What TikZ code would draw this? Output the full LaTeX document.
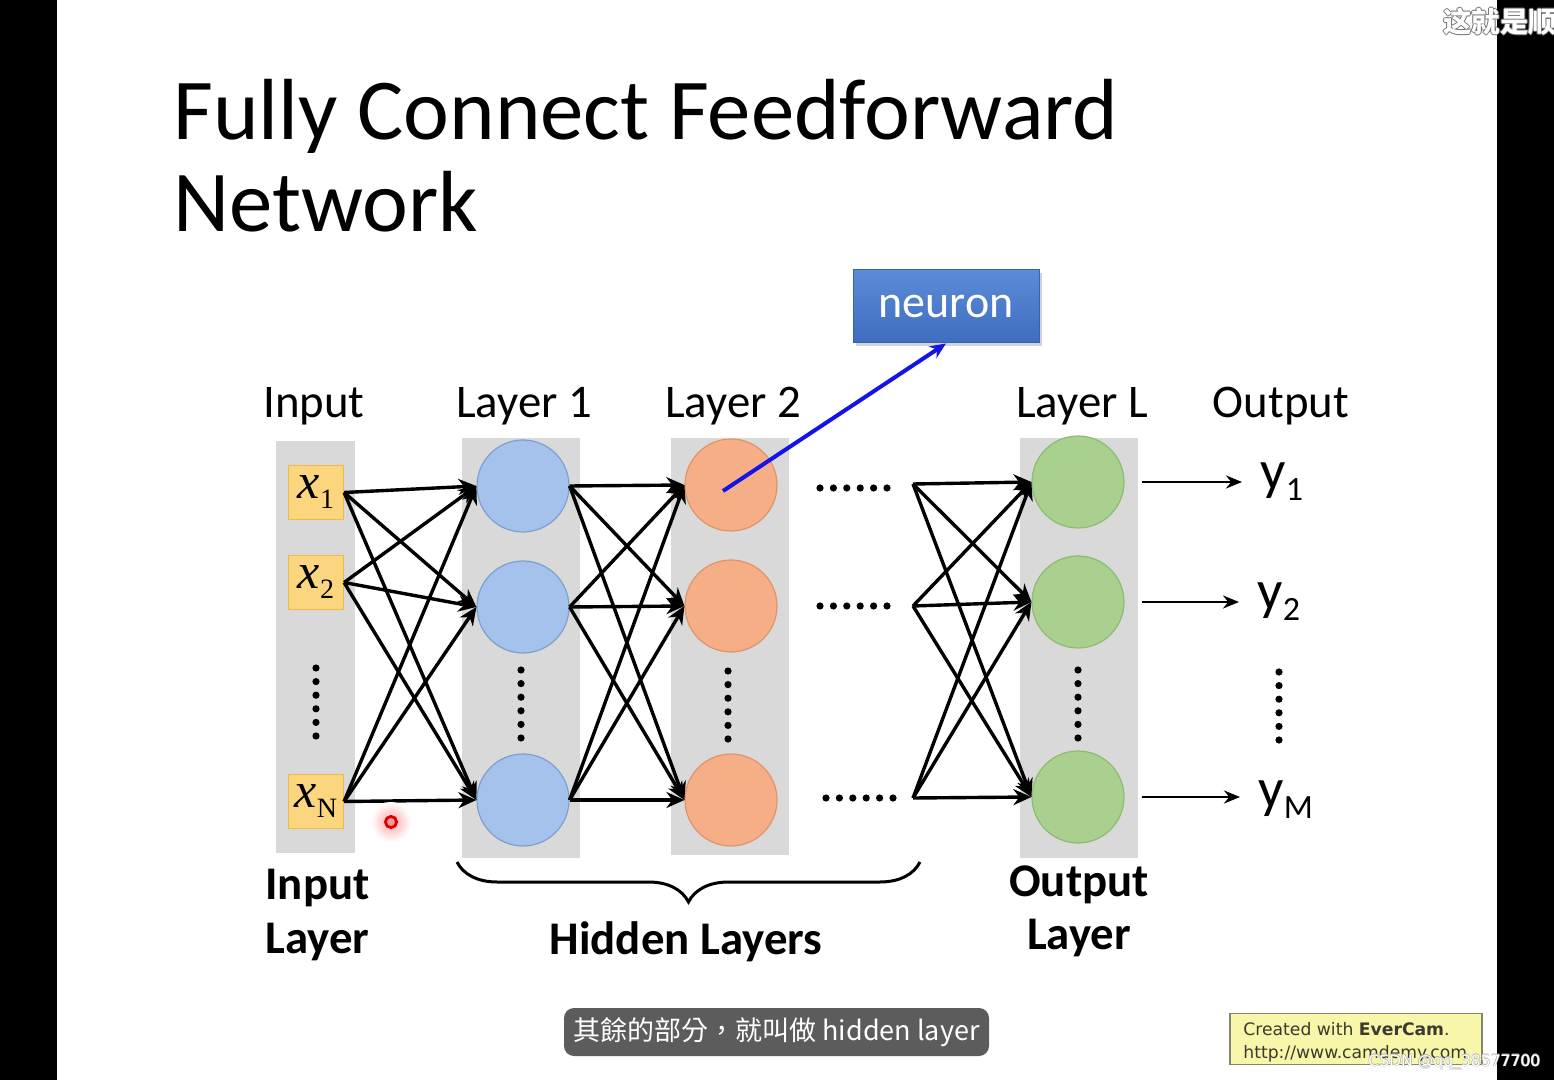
\documentclass[tikz,border=0pt]{standalone}
\usepackage{fontspec}
\setmainfont{Carlito}
\newfontfamily\tnr{Liberation Serif}
\newfontfamily\cjktc{Noto Sans CJK TC}
\newfontfamily\cjksc{Noto Sans CJK SC}
\newfontfamily\dvs{DejaVu Sans}
\usetikzlibrary{arrows.meta,decorations.pathreplacing,shadows}
\newcommand\myfs[1]{\fontsize{#1}{#1}\selectfont}
\newcommand\xlab[1]{{\tnr\myfs{25}\itshape x}\raisebox{-5pt}{\tnr\myfs{14}#1}}
\newcommand\ylab[1]{{\myfs{28}y}\raisebox{-5.5pt}{\myfs{17}#1}}
\newcommand\halo[3]{\leavevmode\rlap{\color{#1}\kern-#3#2}\rlap{\color{#1}\kern#3#2}\rlap{\color{#1}\raisebox{#3}{#2}}\rlap{\color{#1}\raisebox{-#3}{#2}}{\color{white}#2}}
\definecolor{colbg}{HTML}{D9D9D9}
\definecolor{yfill}{HTML}{FCD67E}
\definecolor{ydraw}{HTML}{EDB94A}
\definecolor{bfill}{HTML}{A4C2EC}
\definecolor{bdraw}{HTML}{7F9FCF}
\definecolor{ofill}{HTML}{F6AE87}
\definecolor{odraw}{HTML}{E0946A}
\definecolor{gfill}{HTML}{A9D08E}
\definecolor{gdraw}{HTML}{8DBB72}
\definecolor{nbtop}{HTML}{5B8BD8}
\definecolor{nbbot}{HTML}{3F6DBF}
\definecolor{arrblue}{HTML}{1414E6}
\definecolor{subbg}{HTML}{5C5C5C}
\definecolor{evfill}{HTML}{F8F6A8}
\definecolor{evdraw}{HTML}{85856E}
\definecolor{evtext}{HTML}{3A3A30}
\begin{document}
\begin{tikzpicture}[x=0.5pt,y=-0.5pt,
  col/.style={fill=colbg, draw=none, inner sep=0},
  ybox/.style={fill=yfill, draw=ydraw, line width=0.6pt, minimum width=27.5pt, minimum height=27pt, inner sep=0},
  neur/.style={circle, line width=0.6pt, minimum size=46pt, inner sep=0},
  bneur/.style={neur, fill=bfill, draw=bdraw},
  oneur/.style={neur, fill=ofill, draw=odraw},
  gneur/.style={neur, fill=gfill, draw=gdraw},
  conn/.style={line width=1.7pt, -{Stealth[length=9pt,width=8pt]}},
  outarr/.style={line width=1.4pt, -{Stealth[length=8pt,width=6.5pt]}},
  lab/.style={anchor=base, inner sep=0, font=\myfs{23.4}},
  blab/.style={inner sep=0, font=\myfs{23.4}\bfseries, align=center},
  dot/.style={fill=black}
]
\useasboundingbox (0,0) rectangle (1554,1080);
\fill[white] (0,0) rectangle (1554,1080);
\fill[black] (0,0) rectangle (57,1080);
\fill[black] (1497,0) rectangle (1554,1080);

% title
\node[anchor=base west, inner sep=0] (t1) at (173,140) {\myfs{43.4}Fully Connect Feedforward};
\node[anchor=base west, inner sep=0] (t2) at (173,232) {\myfs{43.4}Network};

% columns
\node[col, minimum width=39.5pt, minimum height=206pt] (c0) at (315.5,647) {};
\node[col, minimum width=59pt, minimum height=210pt] (c1) at (521,648) {};
\node[col, minimum width=59pt, minimum height=208.5pt] (c2) at (730,646.5) {};
\node[col, minimum width=59pt, minimum height=210pt] (cL) at (1079,648) {};

% top labels
\node[lab] (lin) at (314,418) {Input};
\node[lab] (l1) at (524,418) {Layer 1};
\node[lab] (l2) at (733,418) {Layer 2};
\node[lab] (lL) at (1082,418) {Layer L};
\node[lab] (lout) at (1281,418) {Output};

% input boxes
\node[ybox] (x1) at (316,492.5) {\xlab{1}};
\node[ybox] (x2) at (316,582.5) {\xlab{2}};
\node[ybox] (xN) at (316,801.5) {\xlab{N}};

% neurons
\node[bneur] (h1a) at (523,486) {};
\node[bneur] (h1b) at (523,607) {};
\node[bneur] (h1c) at (523,800) {};
\node[oneur] (h2a) at (731,485) {};
\node[oneur] (h2b) at (731,606) {};
\node[oneur] (h2c) at (731,800) {};
\node[gneur] (hLa) at (1078,482) {};
\node[gneur] (hLb) at (1078,602) {};
\node[gneur] (hLc) at (1078,797) {};

% sources for layer L
\coordinate (s1) at (913,484);
\coordinate (s2) at (913,606);
\coordinate (s3) at (913,798);

% connections
\foreach \s in {x1,x2,xN}
  \foreach \t in {h1a,h1b,h1c}
    \draw[conn] (\s.east) -- (\t.west);
\foreach \s in {h1a,h1b,h1c}
  \foreach \t in {h2a,h2b,h2c}
    \draw[conn] (\s.east) -- (\t.west);
\foreach \s in {s1,s2,s3}
  \foreach \t in {hLa,hLb,hLc}
    \draw[conn] (\s) -- (\t.west);

% vertical dots
\foreach \xx/\yy in {316/668, 521/670, 728/671, 1078/670, 1279/672}
  \foreach \k in {0,...,5}
    \fill[dot] (\xx,\yy+\k*13.6) circle (1.8pt);
% horizontal dots
\foreach \xx/\yy in {820/488, 820/606, 826/798}
  \foreach \k in {0,...,5}
    \fill[dot] (\xx+\k*13.4,\yy) circle (1.8pt);

% outputs
\node[anchor=base west, inner sep=0] (y1) at (1260,490) {\ylab{1}};
\node[anchor=base west, inner sep=0] (y2) at (1257,610) {\ylab{2}};
\node[anchor=base west, inner sep=0] (yM) at (1258,807) {\ylab{M}};
\draw[outarr, shorten <=8.5pt, shorten >=9pt] (hLa.east) -- (hLa.east -| y1.west);
\draw[outarr, shorten <=8.5pt, shorten >=9pt] (hLb.east) -- (hLb.east -| y2.west);
\draw[outarr, shorten <=8.5pt, shorten >=9pt] (hLc.east) -- (hLc.east -| yM.west);

% neuron callout
\node[fill=nbbot, top color=nbtop, bottom color=nbbot, draw=nbbot!90!black, line width=0.5pt,
      minimum width=93pt, minimum height=36.5pt, inner sep=0, drop shadow={opacity=0.35, shadow xshift=1.5pt, shadow yshift=-1.5pt},
      text=white, font=\myfs{23}] (neuron) at (946,306.5) {neuron};
\coordinate (nstart) at (723,491);
\draw[arrblue, line width=2pt, -{Stealth[length=8pt,width=7pt]}] (nstart) -- (neuron.south);

% brace and bottom labels
\draw[line width=1.5pt, decorate, decoration={brace, amplitude=20pt}] (920,862) -- (457,862);
\node[blab, anchor=base west] (bin) at (265,953) {Input\\[3.5pt]Layer};
\node[blab, anchor=base] (bhid) at (686,954) {Hidden Layers};
\node[blab, anchor=base] (bout) at (1079,949) {Output\\[3pt]Layer};

% cursor
\shade[inner color=red!35, outer color=white] (391,822) circle (10pt);
\draw[red!85!black, line width=1.4pt, fill=red!40] (391,822) circle (2.8pt);

% subtitle
\node[fill=subbg, rounded corners=5pt, minimum width=212.5pt, minimum height=24pt, inner sep=0,
      text=white, font=\cjktc\myfs{13.5}] (sub) at (776.5,1032) {其餘的部分，就叫做 hidden layer};

% EverCam watermark
\node[fill=evfill, draw=evdraw, line width=0.8pt, minimum width=126pt, minimum height=25.5pt, inner sep=0] (ev) at (1356,1039) {};
\node[anchor=base west, inner sep=0, text=evtext, font=\dvs\myfs{8.6}] (ev1) at (1243,1035) {Created with \textbf{EverCam}.};
\node[anchor=base west, inner sep=0, text=evtext, font=\dvs\myfs{8.6}] (ev2) at (1243,1058) {http://www.camdemy.com};

% CSDN watermark
\node[anchor=base west, inner sep=0, font=\dvs\myfs{7.8}] (csdn) at (1368,1066) {\halo{black!30}{CSDN @qq\_38577700}{0.3pt}};

% top-right caption
\begin{scope}
\clip (0,0) rectangle (1554,1080);
\node[anchor=west, inner sep=0, font=\cjksc\bfseries\myfs{14.2}] (cap) at (1443,22) {\halo{black!55}{这就是顺}{0.5pt}};
\end{scope}
\end{tikzpicture}
\end{document}
